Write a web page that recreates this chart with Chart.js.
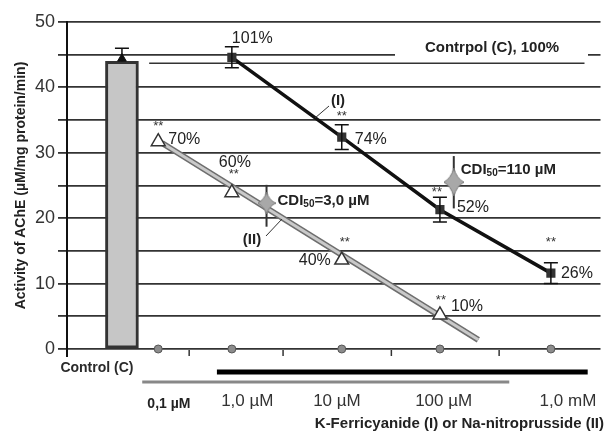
<!DOCTYPE html>
<html>
<head>
<meta charset="utf-8">
<script src="https://cdn.jsdelivr.net/npm/chart.js@4"></script>
<style>
  html, body { margin: 0; padding: 0; background: #fff; }
  #wrap { width: 610px; height: 433px; }
</style>
</head>
<body>
<div id="wrap"><canvas id="myChart" width="610" height="433"></canvas></div>
<script>
// concentrations along the x axis (position on a 0..100 axis)
const concLabels = ["0,1 \u00b5M", "1,0 \u00b5M", "10 \u00b5M", "100 \u00b5M", "1,0 mM"];
const concPos = [17.1, 30.9, 51.5, 69.9, 90.7];
const concLabelPos = [19.1, 33.8, 50.6, 70.6, 93.9];
const minorTicks = [22.9, 40.5, 60.8, 81.0];

// control bar
const controlPos = 10.3;
const controlValue = 44;
const controlErr = 2;

// (I) K-Ferricyanide
const ferriValues = [null, 44.6, 32.4, 21.3, 11.6];
const ferriErr = [null, 1.6, 1.9, 1.9, 1.6];
const ferriPct = ["", "101%", "74%", "52%", "26%"];

// (II) Na-nitroprusside
const nitroValues = [31.7, 23.9, 13.6, 5.2, null];
const nitroPct = ["70%", "60%", "40%", "10%", ""];
const nitroTrend = [{ x: 17.8, y: 31.5 }, { x: 77.1, y: 1.4 }];

// CDI50 points: [II, I]
const cdiPos = [37.4, 72.5];
const cdiValues = [22.3, 25.5];
const cdiLow = [18.7, 21.5];
const cdiHigh = [25.1, 29.5];

const yTicks = [0, 10, 20, 30, 40, 50];

const FONT = "'Liberation Sans', Arial, sans-serif";

function pts(xs, ys) {
  const out = [];
  for (let i = 0; i < xs.length; i++) {
    if (ys[i] !== null) out.push({ x: xs[i], y: ys[i] });
  }
  return out;
}

// 4 pointed star for the CDI50 markers
function starImage(w, h) {
  const c = document.createElement("canvas");
  c.width = w; c.height = h;
  const g = c.getContext("2d");
  const cx = w / 2, cy = h / 2, k = 0.28;
  g.beginPath();
  g.moveTo(cx, 0);
  g.quadraticCurveTo(cx + w * k * 0.5, cy - h * k * 0.5, w, cy);
  g.quadraticCurveTo(cx + w * k * 0.5, cy + h * k * 0.5, cx, h);
  g.quadraticCurveTo(cx - w * k * 0.5, cy + h * k * 0.5, 0, cy);
  g.quadraticCurveTo(cx - w * k * 0.5, cy - h * k * 0.5, cx, 0);
  g.closePath();
  g.fillStyle = "#a8a8a8";
  g.fill();
  g.strokeStyle = "#7a7a7a";
  g.lineWidth = 1;
  g.stroke();
  return c;
}

function text(ctx, s, x, y, font, align, color) {
  ctx.font = font;
  ctx.textAlign = align || "left";
  ctx.textBaseline = "middle";
  ctx.fillStyle = color || "#222";
  ctx.fillText(s, x, y);
}

function cdiText(ctx, x, y, rest) {
  ctx.textBaseline = "middle";
  ctx.textAlign = "left";
  ctx.fillStyle = "#222";
  ctx.font = "bold 15px " + FONT;
  ctx.fillText("CDI", x, y);
  let w = ctx.measureText("CDI").width;
  ctx.font = "bold 10px " + FONT;
  ctx.fillText("50", x + w, y + 3);
  w += ctx.measureText("50").width;
  ctx.font = "bold 15px " + FONT;
  ctx.fillText(rest, x + w, y);
}

function errBar(ctx, x, yTop, yBot, cap) {
  ctx.beginPath();
  ctx.moveTo(x, yTop); ctx.lineTo(x, yBot);
  ctx.moveTo(x - cap, yTop); ctx.lineTo(x + cap, yTop);
  ctx.moveTo(x - cap, yBot); ctx.lineTo(x + cap, yBot);
  ctx.stroke();
}

const annot = {
  id: "annot",
  beforeDatasetsDraw(chart) {
    const ctx = chart.ctx;
    const xs = chart.scales.x, ys = chart.scales.y;
    ctx.save();
    // control reference line
    ctx.strokeStyle = "#333";
    ctx.lineWidth = 1.5;
    ctx.beginPath();
    ctx.moveTo(xs.getPixelForValue(15.4), ys.getPixelForValue(43.7));
    ctx.lineTo(xs.getPixelForValue(97.0), ys.getPixelForValue(43.7));
    ctx.stroke();
    // label over the 45 line
    ctx.fillStyle = "#fff";
    ctx.fillRect(395, ys.getPixelForValue(45) - 4, 193, 8);
    text(ctx, "Contrpol (C), 100%", 492, 48, "bold 15px " + FONT, "center", "#222");

    // things under the axis
    const y0 = ys.getPixelForValue(0);
    ctx.strokeStyle = "#111";
    ctx.lineWidth = 2;
    ctx.beginPath();
    ctx.moveTo(chart.chartArea.left, y0);
    ctx.lineTo(chart.chartArea.left, y0 + 8);
    ctx.stroke();
    ctx.strokeStyle = "#333";
    ctx.lineWidth = 1.5;
    minorTicks.forEach(function (v) {
      const px = xs.getPixelForValue(v);
      ctx.beginPath();
      ctx.moveTo(px, y0 + 1); ctx.lineTo(px, y0 + 7);
      ctx.stroke();
    });
    ctx.lineWidth = 5;
    ctx.strokeStyle = "#000";
    ctx.beginPath();
    ctx.moveTo(xs.getPixelForValue(28.1), 372);
    ctx.lineTo(xs.getPixelForValue(97.6), 372);
    ctx.stroke();
    ctx.lineWidth = 3;
    ctx.strokeStyle = "#888";
    ctx.beginPath();
    ctx.moveTo(xs.getPixelForValue(14.1), 382);
    ctx.lineTo(xs.getPixelForValue(82.9), 382);
    ctx.stroke();

    text(ctx, "Control (C)", xs.getPixelForValue(controlPos) - 25, 368, "bold 14px " + FONT, "center", "#2a2a2a");
    concLabels.forEach(function (s, i) {
      const bold = i === 0;
      text(ctx, s, xs.getPixelForValue(concLabelPos[i]), bold ? 404 : 401,
        (bold ? "bold 14px " : "17px ") + FONT, "center", bold ? "#222" : "#333");
    });
    text(ctx, "K-Ferricyanide (I) or Na-nitroprusside (II)", 604, 424, "bold 15px " + FONT, "right", "#222");

    // CDI vertical lines
    ctx.strokeStyle = "#333";
    ctx.lineWidth = 2;
    cdiPos.forEach(function (v, i) {
      const px = xs.getPixelForValue(v);
      ctx.beginPath();
      ctx.moveTo(px, ys.getPixelForValue(cdiHigh[i]));
      ctx.lineTo(px, ys.getPixelForValue(cdiLow[i]));
      ctx.stroke();
    });
    ctx.restore();
  },
  afterDatasetsDraw(chart) {
    const ctx = chart.ctx;
    const xs = chart.scales.x, ys = chart.scales.y;
    ctx.save();
    ctx.strokeStyle = "#111";
    ctx.lineWidth = 1.5;
    // control error bar (top only)
    const cx = xs.getPixelForValue(controlPos);
    ctx.beginPath();
    ctx.moveTo(cx, ys.getPixelForValue(controlValue));
    ctx.lineTo(cx, ys.getPixelForValue(controlValue + controlErr));
    ctx.moveTo(cx - 7, ys.getPixelForValue(controlValue + controlErr));
    ctx.lineTo(cx + 7, ys.getPixelForValue(controlValue + controlErr));
    ctx.stroke();

    // (I) error bars and labels
    const pctFont = "16px " + FONT;
    const starFont = "13px " + FONT;
    const ferriOff = [null, [0, -19, "left"], [13, 2, "left"], [17, -2, "left"], [10, 0, "left"]];
    const ferriStar = [null, null, [0, -21], [-3, -17], [0, -31]];
    ferriValues.forEach(function (v, i) {
      if (v === null) return;
      const px = xs.getPixelForValue(concPos[i]);
      const py = ys.getPixelForValue(v);
      errBar(ctx, px, ys.getPixelForValue(v + ferriErr[i]), ys.getPixelForValue(v - ferriErr[i]), 7);
      const o = ferriOff[i];
      text(ctx, ferriPct[i], px + o[0], py + o[1], pctFont, o[2], "#222");
      if (ferriStar[i]) text(ctx, "**", px + ferriStar[i][0], py + ferriStar[i][1], starFont, "center", "#333");
    });

    // (II) labels
    const nitroOff = [[10, -2, "left"], [3, -30, "center"], [-11, 1, "right"], [11, -8, "left"]];
    const nitroStar = [[0, -15], [2, -18], [3, -18], [1, -15]];
    nitroValues.forEach(function (v, i) {
      if (v === null) return;
      const px = xs.getPixelForValue(concPos[i]);
      const py = ys.getPixelForValue(v);
      const o = nitroOff[i];
      text(ctx, nitroPct[i], px + o[0], py + o[1], pctFont, o[2], "#222");
      text(ctx, "**", px + nitroStar[i][0], py + nitroStar[i][1], starFont, "center", "#333");
    });

    // CDI50 labels
    cdiText(ctx, xs.getPixelForValue(cdiPos[0]) + 11, ys.getPixelForValue(cdiValues[0]) - 2, "=3,0 \u00b5M");
    cdiText(ctx, xs.getPixelForValue(cdiPos[1]) + 7, ys.getPixelForValue(cdiValues[1]) - 12, "=110 \u00b5M");

    // (I) and (II) with leader lines
    ctx.strokeStyle = "#333";
    ctx.lineWidth = 1;
    ctx.beginPath();
    ctx.moveTo(315, 118); ctx.lineTo(329, 106);
    ctx.moveTo(266, 236); ctx.lineTo(282, 219);
    ctx.stroke();
    text(ctx, "(I)", 338, 101, "bold 15px " + FONT, "center", "#222");
    text(ctx, "(II)", 252, 240, "bold 15px " + FONT, "center", "#222");
    ctx.restore();
  }
};

const ctx = document.getElementById("myChart");

new Chart(ctx, {
  type: "scatter",
  data: {
    datasets: [
      {
        type: "scatter",
        data: concPos.map(function (x) { return { x: x, y: 0 }; }),
        pointRadius: 4,
        backgroundColor: "#8c8c8c",
        borderColor: "#555",
        borderWidth: 1,
        clip: false,
        order: 0
      },
      {
        type: "scatter",
        data: pts(cdiPos, cdiValues),
        pointStyle: [starImage(18, 22), starImage(20, 28)],
        order: 1
      },
      {
        type: "line",
        data: pts(concPos, nitroValues),
        showLine: false,
        pointStyle: "triangle",
        pointRadius: 8,
        backgroundColor: "#fff",
        borderColor: "#333",
        borderWidth: 1.5,
        order: 2
      },
      {
        type: "scatter",
        data: [{ x: controlPos, y: controlValue + 0.4 }],
        pointStyle: "triangle",
        pointRadius: 5,
        backgroundColor: "#111",
        borderColor: "#111",
        order: 2
      },
      {
        type: "line",
        data: pts(concPos, ferriValues),
        borderColor: "#111",
        borderWidth: 3.5,
        pointStyle: "rect",
        pointRadius: 4,
        backgroundColor: "#333",
        pointBorderColor: "#333",
        tension: 0,
        order: 3
      },
      {
        type: "line",
        data: nitroTrend,
        borderColor: "#c9c9c9",
        borderWidth: 3,
        pointRadius: 0,
        order: 8
      },
      {
        type: "line",
        data: nitroTrend,
        borderColor: "#6e6e6e",
        borderWidth: 6,
        pointRadius: 0,
        order: 9
      },
      {
        type: "bar",
        data: [{ x: controlPos, y: controlValue }],
        backgroundColor: "#c6c6c6",
        borderColor: "#333",
        borderWidth: 3,
        borderSkipped: false,
        barThickness: 33,
        order: 10
      }
    ]
  },
  options: {
    responsive: false,
    animation: false,
    layout: { padding: { left: 0, right: 5, top: 22, bottom: 84 } },
    plugins: { legend: { display: false }, tooltip: { enabled: false } },
    scales: {
      x: { type: "linear", min: 0, max: 100, offset: false, display: false },
      y: {
        min: 0,
        max: 50,
        afterFit: function (scale) { scale.width = 67; },
        ticks: {
          stepSize: 5,
          padding: 3,
          color: "#333",
          font: { size: 18, family: FONT },
          callback: function (v) { return yTicks.indexOf(v) >= 0 ? v : ""; }
        },
        grid: { color: "#333", lineWidth: 1.8, tickLength: 9 },
        border: { color: "#111", width: 2 },
        title: {
          display: true,
          text: "Activity of AChE (\u00b5M/mg protein/min)",
          color: "#222",
          font: { size: 14, weight: "bold", family: FONT },
          padding: { top: 13, bottom: 0 }
        }
      }
    }
  },
  plugins: [annot]
});
</script>
</body>
</html>
